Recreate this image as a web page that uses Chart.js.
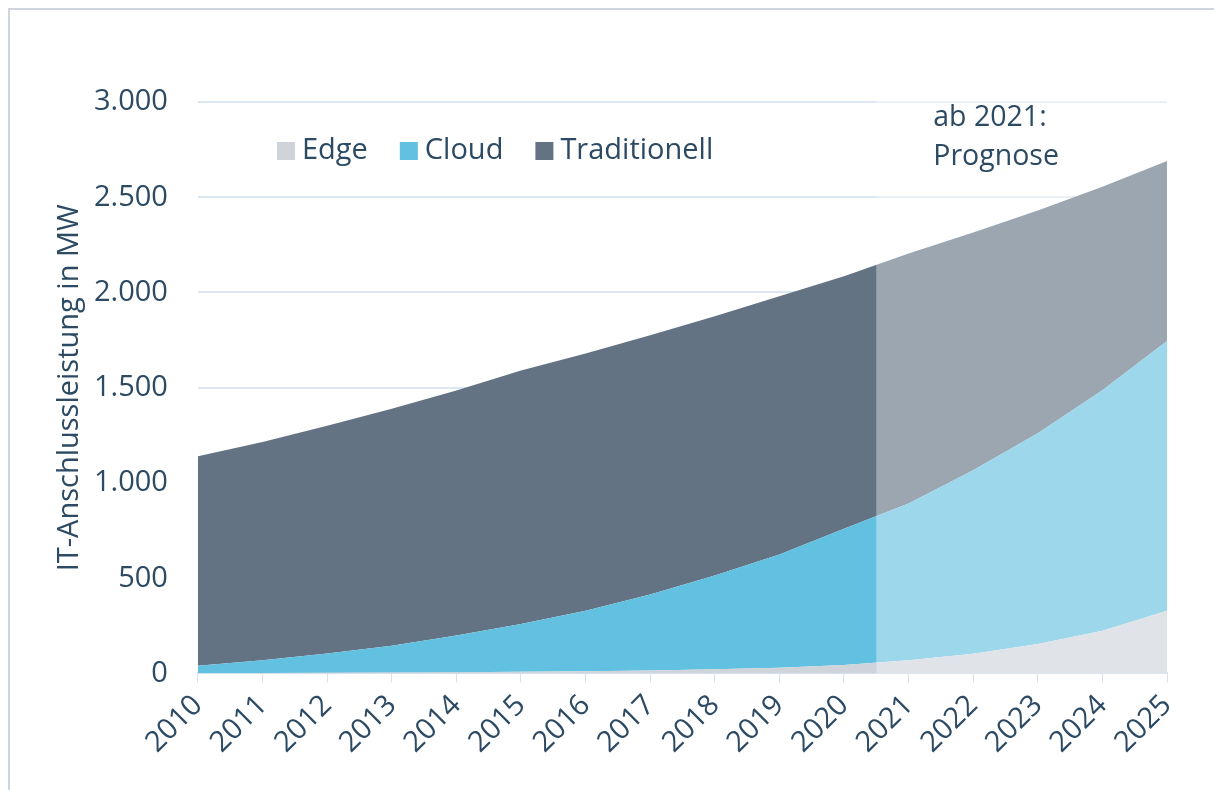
<!DOCTYPE html>
<html lang="de">
<head>
  <meta charset="UTF-8" />
  <title>IT-Anschlussleistung</title>
  <script src="https://cdn.jsdelivr.net/npm/chart.js"></script>
  <style>
    body { margin: 0; background: #fff; }
    .wrap { position: relative; width: 1214px; height: 790px; }
    .frame { position: absolute; left: 8px; top: 8px; right: 0; bottom: 0;
             border-top: 2px solid #cfd5dc; border-left: 2px solid #cfd5dc; pointer-events: none; }
  </style>
</head>
<body>
  <div class="wrap">
    <canvas id="chartArea" width="1214" height="790"></canvas>
    <div class="frame"></div>
  </div>

<script>
  // Daten
  var jahre = ["2010", "2011", "2012", "2013", "2014", "2015", "2016", "2017",
               "2018", "2019", "2020", "2021", "2022", "2023", "2024", "2025"];
  var edge = [2, 3, 4, 5, 7, 9, 12, 16, 22, 30, 45, 70, 103, 155, 225, 330];
  var cloud = [38, 67, 101, 140, 193, 251, 318, 399, 493, 595, 715, 823, 964, 1106, 1262, 1415];
  var traditionell = [1100, 1145, 1195, 1245, 1285, 1330, 1350, 1360, 1360, 1355, 1325, 1312, 1248, 1169, 1068, 945];
  var yTicks = [0, 500, 1000, 1500, 2000, 2500, 3000];
  var prognoseAb = 10.5; // Index zwischen 2020 und 2021
  var prognoseText = ["ab 2021:", "Prognose"];
  var yTitel = 'IT-Anschlussleistung in MW';

  var textColor = '#2c4a63';
  var fontName = "'Open Sans', sans-serif";

  // weisse Ueberlagerung fuer den Prognosebereich + Beschriftung
  var prognosePlugin = {
    id: 'prognose',
    afterDatasetsDraw: function (chart) {
      var ctx = chart.ctx;
      var area = chart.chartArea;
      var x0 = chart.scales.x.getPixelForValue(prognoseAb);
      ctx.save();
      ctx.fillStyle = 'rgba(255,255,255,0.37)';
      ctx.fillRect(x0, area.top - 2, area.right - x0, area.bottom - area.top + 2);
      ctx.fillStyle = textColor;
      ctx.font = '28.5px ' + fontName;
      ctx.textAlign = 'left';
      ctx.textBaseline = 'middle';
      ctx.fillText(prognoseText[0], x0 + 57, area.top + 16);
      ctx.fillText(prognoseText[1], x0 + 57, area.top + 55);
      ctx.restore();
    }
  };

  // Legende innerhalb der Zeichenflaeche + Achsentitel
  var legendePlugin = {
    id: 'legende',
    afterDraw: function (chart) {
      var ctx = chart.ctx;
      var area = chart.chartArea;
      var x = area.left + 79;
      var y = area.top + 49;
      ctx.save();
      ctx.font = '29px ' + fontName;
      ctx.textBaseline = 'middle';
      ctx.textAlign = 'left';
      chart.data.datasets.forEach(function (ds) {
        ctx.fillStyle = ds.backgroundColor;
        ctx.fillRect(x, y - 9, 18, 18);
        ctx.fillStyle = textColor;
        ctx.fillText(ds.label, x + 25, y);
        x += 25 + ctx.measureText(ds.label).width + 32;
      });
      // y-Achsentitel
      ctx.translate(area.left - 128, (area.top + area.bottom) / 2);
      ctx.rotate(-Math.PI / 2);
      ctx.textAlign = 'center';
      ctx.fillText(yTitel, 0, 0);
      ctx.restore();
    }
  };

  var ctx = document.getElementById("chartArea").getContext("2d");
  var config = {
    type: 'line',
    data: {
      labels: jahre,
      datasets: [
        { label: 'Edge', data: edge, backgroundColor: '#cfd3da', fill: 'origin' },
        { label: 'Cloud', data: cloud, backgroundColor: '#62c0e0', fill: '-1' },
        { label: 'Traditionell', data: traditionell, backgroundColor: '#637384', fill: '-1' }
      ]
    },
    options: {
      responsive: false,
      animation: false,
      layout: { padding: { left: 64, right: 47, top: 102, bottom: 24 } },
      elements: {
        point: { radius: 0 },
        line: { borderWidth: 0, tension: 0 }
      },
      plugins: {
        legend: { display: false },
        tooltip: { enabled: false }
      },
      scales: {
        x: {
          offset: false,
          grid: { drawOnChartArea: false, drawTicks: true, tickLength: 9, color: '#d6e1ec' },
          border: { color: '#d6e1ec', width: 2 },
          ticks: {
            color: textColor, font: { family: fontName, size: 29 },
            maxRotation: 45, minRotation: 45, autoSkip: false, padding: 6
          }
        },
        y: {
          stacked: true,
          min: 0, max: 3000,
          afterBuildTicks: function (axis) {
            axis.ticks = yTicks.map(function (v) { return { value: v }; });
          },
          grid: { color: '#dde7f1', lineWidth: 2, drawTicks: false },
          border: { display: false },
          ticks: {
            color: textColor, font: { family: fontName, size: 29 }, padding: 30,
            callback: function (v) { return v.toLocaleString('de-DE'); }
          }
        }
      }
    },
    plugins: [prognosePlugin, legendePlugin]
  };
  var chart = new Chart(ctx, config);
</script>
</body>
</html>
